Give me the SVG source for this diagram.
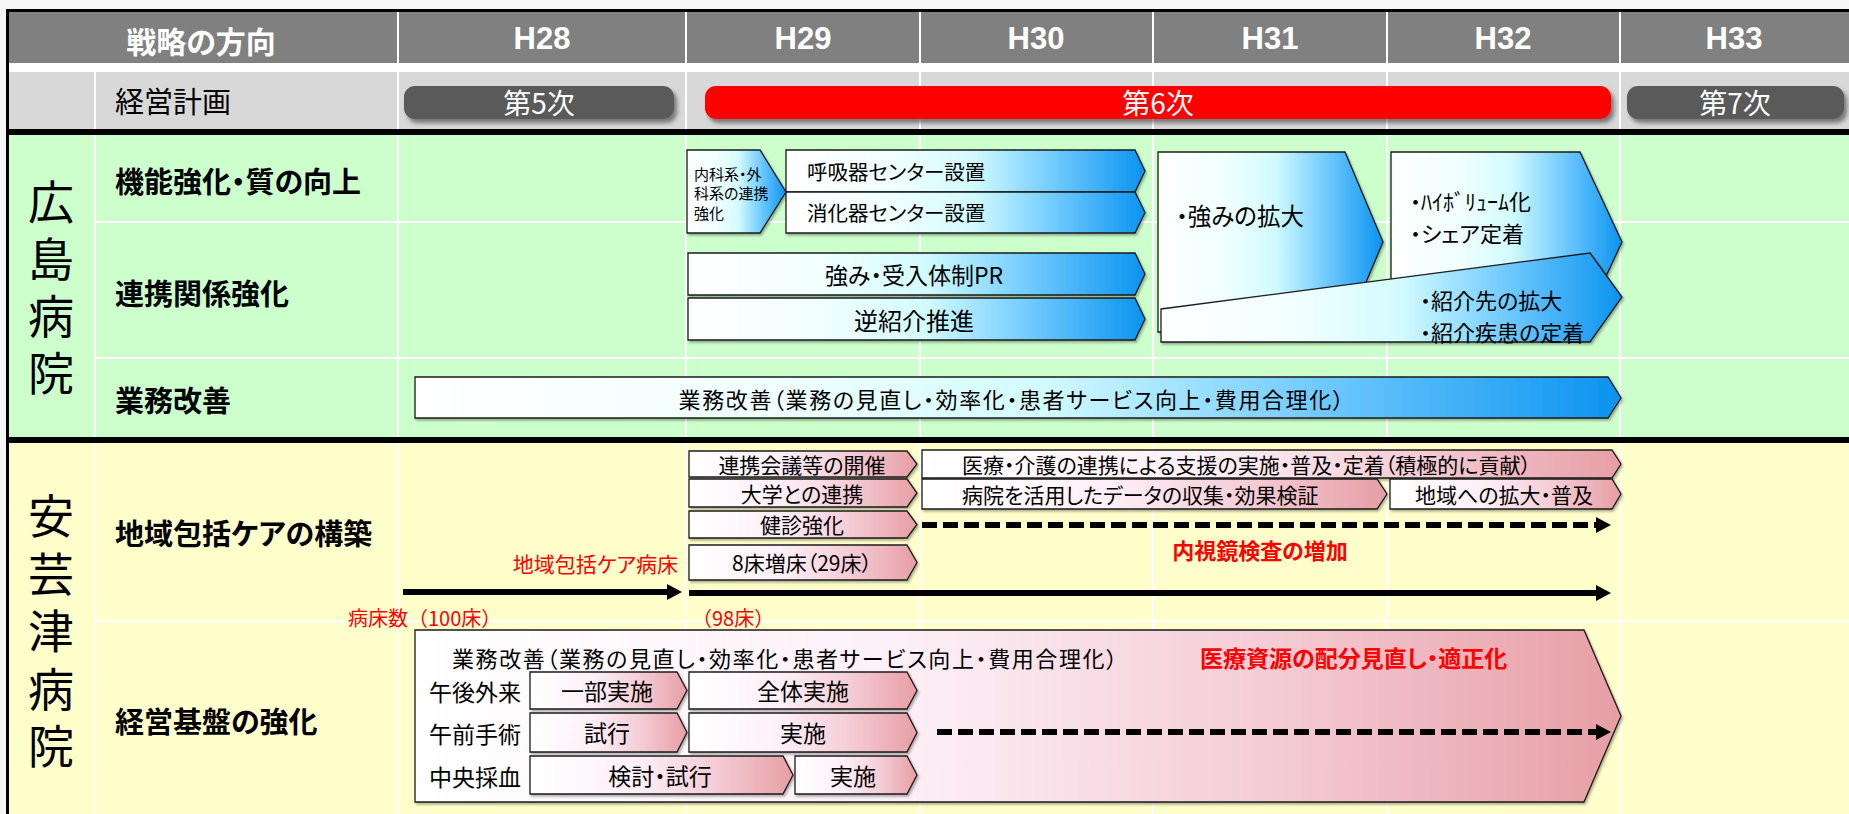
<svg xmlns="http://www.w3.org/2000/svg" width="1849" height="814" viewBox="0 0 1849 814">
<defs>
<linearGradient id="gb" x1="0" y1="0" x2="1" y2="0">
<stop offset="0" stop-color="#ffffff"/>
<stop offset="0.3" stop-color="#f0ffff"/>
<stop offset="0.52" stop-color="#d2fbff"/>
<stop offset="0.72" stop-color="#7cd0ff"/>
<stop offset="1" stop-color="#0a93f0"/>
</linearGradient>
<linearGradient id="gp" x1="0" y1="0" x2="1" y2="0">
<stop offset="0" stop-color="#ffffff"/>
<stop offset="0.4" stop-color="#fdf0f8"/>
<stop offset="0.7" stop-color="#f5cdd6"/>
<stop offset="1" stop-color="#e79ea5"/>
</linearGradient>
<filter id="sh" x="-5%" y="-30%" width="110%" height="170%">
<feDropShadow dx="3" dy="4" stdDeviation="2" flood-color="#000" flood-opacity="0.45"/>
</filter>
<filter id="sh2" x="-5%" y="-10%" width="110%" height="130%">
<feDropShadow dx="1.5" dy="2" stdDeviation="1" flood-color="#000" flood-opacity="0.3"/>
</filter>
<marker id="ah" markerUnits="userSpaceOnUse" markerWidth="16" markerHeight="18" refX="3" refY="8" orient="auto">
<path d="M0,0 L15,8 L0,16 z" fill="#000"/>
</marker>
<style>
.t { font-family: "Noto Sans CJK JP", "Noto Sans", sans-serif; font-feature-settings: "palt" 1; dominant-baseline: central; fill: #000; }
.fw { font-feature-settings: normal; }
.b { font-weight: bold; }
.mid { text-anchor: middle; }
.end { text-anchor: end; }
.hdr { fill: #fff; font-weight: bold; font-size: 30px; }
.yr { font-family: "Liberation Sans", Arial, sans-serif; font-weight: bold; font-size: 31px; fill: #fff; text-anchor: middle; dominant-baseline: central; }
.lbl { font-size: 29px; font-weight: bold; }
.big { font-family: "Noto Sans CJK JP", "Noto Sans", sans-serif; font-size: 46px; fill: #000; writing-mode: vertical-rl; }
.plan { font-size: 28px; fill: #fff; text-anchor: middle; }
.nb { stroke: #1a1a1a; stroke-width: 1.3; filter: url(#sh2); }
.blue { fill: url(#gb); }
.pink { fill: url(#gp); }
.red { fill: #ff0000; }
.grid { stroke: #ffffff; stroke-width: 2; }
.conn { stroke: #000; stroke-width: 6; fill: none; marker-end: url(#ah); }
.dash { stroke-dasharray: 15 6; }
</style>
</defs>

<!-- background / table -->
<rect x="0" y="0" width="1849" height="814" fill="#f6f6f6"/>
<rect x="9" y="12" width="1840" height="51" fill="#808080"/>
<rect x="9" y="63" width="1840" height="9" fill="#ffffff"/>
<rect x="9" y="72" width="1840" height="57" fill="#d8d8d8"/>
<rect x="9" y="135" width="1840" height="302" fill="#ccffcc"/>
<rect x="9" y="443" width="1840" height="371" fill="#ffffcc"/>

<g id="grid">
<line class="grid" x1="398" y1="12" x2="398" y2="814"/>
<line class="grid" x1="686" y1="12" x2="686" y2="814"/>
<line class="grid" x1="920" y1="12" x2="920" y2="814"/>
<line class="grid" x1="1153" y1="12" x2="1153" y2="814"/>
<line class="grid" x1="1387" y1="12" x2="1387" y2="814"/>
<line class="grid" x1="1620" y1="12" x2="1620" y2="814"/>
<line class="grid" x1="95" y1="72" x2="95" y2="814"/>
<line class="grid" x1="95" y1="222" x2="1849" y2="222"/>
<line class="grid" x1="95" y1="358" x2="1849" y2="358"/>
<line class="grid" x1="95" y1="621" x2="1849" y2="621"/>
</g>

<rect x="6" y="9" width="1843" height="3" fill="#000"/>
<rect x="6" y="9" width="3" height="805" fill="#000"/>
<rect x="9" y="129" width="1840" height="6" fill="#000"/>
<rect x="9" y="437" width="1840" height="6" fill="#000"/>

<!-- header texts -->
<g id="header">
<text class="t hdr mid" x="201" y="40">戦略の方向</text>
<text class="yr" x="542" y="38">H28</text>
<text class="yr" x="803" y="38">H29</text>
<text class="yr" x="1036" y="38">H30</text>
<text class="yr" x="1270" y="38">H31</text>
<text class="yr" x="1503" y="38">H32</text>
<text class="yr" x="1734" y="38">H33</text>
<text class="t" x="115" y="100" font-size="29">経営計画</text>
</g>

<g id="plan5">
<rect x="404" y="86" width="270" height="33" rx="11" fill="#5a5a5a" filter="url(#sh)"/>
<text class="t plan" x="539" y="102">第5次</text>
</g>
<g id="plan6">
<rect x="705" y="86" width="906" height="33" rx="11" fill="#ff0000" filter="url(#sh)"/>
<text class="t plan" x="1158" y="102">第6次</text>
</g>
<g id="plan7">
<rect x="1627" y="86" width="217" height="33" rx="11" fill="#5a5a5a" filter="url(#sh)"/>
<text class="t plan" x="1735" y="102">第7次</text>
</g>

<!-- hospital names -->
<g id="hiroshima">
<text class="big" x="51" y="179" letter-spacing="11">広島病院</text>
</g>
<g id="akitsu">
<text class="big" x="51" y="493" letter-spacing="11.5">安芸津病院</text>
</g>

<!-- row labels -->
<g id="labels">
<text class="t lbl" x="115" y="180">機能強化・質の向上</text>
<text class="t lbl" x="115" y="292">連携関係強化</text>
<text class="t lbl" x="115" y="399">業務改善</text>
<text class="t lbl" x="115" y="532">地域包括ケアの構築</text>
<text class="t lbl" x="115" y="720">経営基盤の強化</text>
</g>

<!-- Hiroshima nodes -->
<g id="n-naika">
<polygon class="nb blue" points="687,150 760,150 786,192 760,233 687,233"/>
<text class="t" x="694" y="173" font-size="15"><tspan x="694" y="173">内科系・外</tspan><tspan x="694" y="192">科系の連携</tspan><tspan x="694" y="212">強化</tspan></text>
</g>
<g id="n-kokyuki">
<polygon class="nb blue" points="786,150 1135,150 1145,171 1135,192 786,192"/>
<text class="t" x="807" y="171" font-size="20.5">呼吸器センター設置</text>
</g>
<g id="n-shokaki">
<polygon class="nb blue" points="786,192 1135,192 1145,212.5 1135,233 786,233"/>
<text class="t" x="807" y="212" font-size="20.5">消化器センター設置</text>
</g>
<g id="n-pr">
<polygon class="nb blue" points="688,253 1135,253 1145,274 1135,295 688,295"/>
<text class="t mid" x="914" y="274" font-size="23">強み・受入体制PR</text>
</g>
<g id="n-gyaku">
<polygon class="nb blue" points="688,298 1135,298 1145,319 1135,340 688,340"/>
<text class="t mid" x="914" y="319" font-size="24">逆紹介推進</text>
</g>
<g id="n-tsuyomi">
<polygon class="nb blue" points="1158,152 1345,152 1383,242 1345,332 1158,332"/>
<text class="t" x="1176" y="215" font-size="23.5">・強みの拡大</text>
</g>
<g id="n-highvol">
<polygon class="nb blue" points="1391,152 1580,152 1622,242 1580,332 1391,332"/>
<text class="t" font-size="22"><tspan x="1410" y="200">・ﾊｲﾎﾞﾘｭｰﾑ化</tspan><tspan x="1410" y="232">・シェア定着</tspan></text>
</g>
<g id="n-shokai">
<polygon class="nb blue" points="1161,309 1590,253 1622,297 1590,342 1161,342"/>
<text class="t" font-size="22"><tspan x="1420" y="299">・紹介先の拡大</tspan><tspan x="1420" y="331">・紹介疾患の定着</tspan></text>
</g>
<g id="n-gyomu">
<polygon class="nb blue" points="415,377 1608,377 1621,398 1608,418 415,418"/>
<text class="t mid" x="1012" y="398" font-size="22" letter-spacing="1.6">業務改善（業務の見直し・効率化・患者サービス向上・費用合理化）</text>
</g>

<!-- Akitsu nodes -->
<g id="n-kaigi">
<polygon class="nb pink" points="689,451 907,451 917,464 907,477 689,477"/>
<text class="t mid" x="802" y="464" font-size="21">連携会議等の開催</text>
</g>
<g id="n-daigaku">
<polygon class="nb pink" points="689,479 907,479 917,493 907,507 689,507"/>
<text class="t mid" x="802" y="493" font-size="21">大学との連携</text>
</g>
<g id="n-kenshin">
<polygon class="nb pink" points="689,511 907,511 917,524.5 907,538 689,538"/>
<text class="t mid" x="802" y="524" font-size="21">健診強化</text>
</g>
<g id="n-zosho">
<polygon class="nb pink" points="689,545 907,545 917,562.5 907,580 689,580"/>
<text class="t mid" x="802" y="562" font-size="21">8床増床（29床）</text>
</g>
<g id="n-iryokaigo">
<polygon class="nb pink" points="922,450 1612,450 1621,464 1612,478 922,478"/>
<text class="t" x="962" y="464" font-size="21">医療・介護の連携による支援の実施・普及・定着（積極的に貢献）</text>
</g>
<g id="n-data">
<polygon class="nb pink" points="922,479 1377,479 1387,494 1377,509 922,509"/>
<text class="t" x="962" y="494" font-size="21">病院を活用したデータの収集・効果検証</text>
</g>
<g id="n-kakudai">
<polygon class="nb pink" points="1390,479 1612,479 1621,494 1612,509 1390,509"/>
<text class="t mid" x="1504" y="494" font-size="21">地域への拡大・普及</text>
</g>
<g id="n-keiei">
<polygon class="nb pink" points="415,630 1584,630 1621,716 1584,802 415,802"/>
<text class="t" x="452" y="657" font-size="22" letter-spacing="1.6">業務改善（業務の見直し・効率化・患者サービス向上・費用合理化）</text>
<text class="t b red" x="1200" y="657" font-size="23">医療資源の配分見直し・適正化</text>
<text class="t" x="429" y="691" font-size="23">午後外来</text>
<text class="t" x="429" y="733" font-size="23">午前手術</text>
<text class="t" x="429" y="776" font-size="23">中央採血</text>
</g>
<g id="n-ichibu">
<polygon class="nb pink" points="530,672 677,672 687,690.5 677,709 530,709"/>
<text class="t mid" x="607" y="690" font-size="23">一部実施</text>
</g>
<g id="n-zentai">
<polygon class="nb pink" points="689,672 907,672 917,690.5 907,709 689,709"/>
<text class="t mid" x="803" y="690" font-size="23">全体実施</text>
</g>
<g id="n-shiko">
<polygon class="nb pink" points="530,713 677,713 687,732.5 677,752 530,752"/>
<text class="t mid" x="607" y="732" font-size="23">試行</text>
</g>
<g id="n-jisshi1">
<polygon class="nb pink" points="689,713 907,713 917,732.5 907,752 689,752"/>
<text class="t mid" x="803" y="732" font-size="23">実施</text>
</g>
<g id="n-kento">
<polygon class="nb pink" points="530,756 783,756 793,775 783,794 530,794"/>
<text class="t mid" x="660" y="775" font-size="23">検討・試行</text>
</g>
<g id="n-jisshi2">
<polygon class="nb pink" points="795,756 907,756 917,775 907,794 795,794"/>
<text class="t mid" x="853" y="775" font-size="23">実施</text>
</g>

<!-- red annotations -->
<g id="notes">
<text class="t red end" x="678" y="563" font-size="21">地域包括ケア病床</text>
<text class="t fw red" x="348" y="617" font-size="20">病床数（100床）</text>
<text class="t fw red" x="692" y="617" font-size="20">（98床）</text>
<text class="t b red mid" x="1260" y="549" font-size="22">内視鏡検査の増加</text>
</g>

<!-- connectors -->
<g id="connectors">
<line class="conn" x1="403" y1="592" x2="670" y2="592"/>
<line class="conn" x1="689" y1="593" x2="1599" y2="593"/>
<line class="conn dash" x1="922" y1="525" x2="1599" y2="525"/>
<line class="conn dash" x1="937" y1="732" x2="1599" y2="732"/>
</g>
</svg>
